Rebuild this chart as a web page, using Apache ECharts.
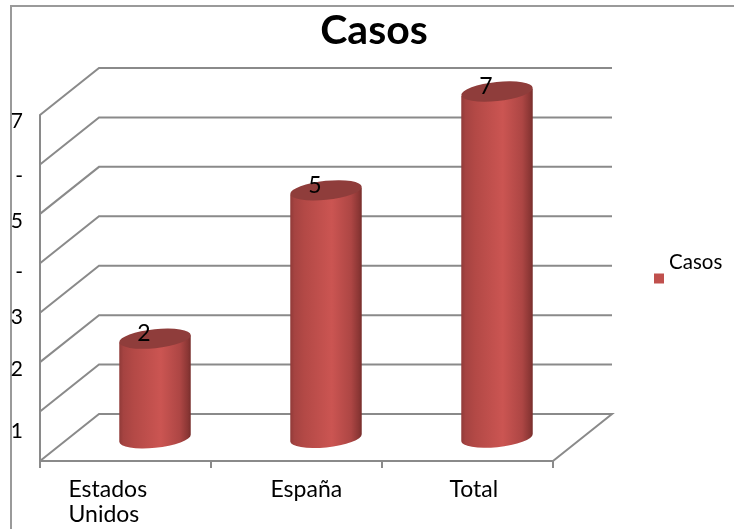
<!DOCTYPE html>
<html><head><meta charset="utf-8">
<style>html,body{margin:0;padding:0;background:#fff}#c{width:734px;height:529px}</style>
<script src="https://cdn.jsdelivr.net/npm/echarts@6/dist/echarts.min.js"></script>
</head><body><div id="c"></div>
<script>
var categories = ['Estados\nUnidos', 'España', 'Total'];
var casos = [2, 5, 7];
var tickValues = [0, 1, 2, 3, 4, 5, 6, 7];
var tickLabels = {1:'1', 2:'2', 3:'3', 4:'-', 5:'5', 6:'-', 7:'7'};
var labelShift = {1:20, 2:7, 3:5, 4:9, 5:7, 6:12, 7:6};
var catLabelDx = [-57, -26, -18];

var DX = 59, DY = 47;
var GRID = '#8a8a8a';
var font = 'Lato, "Open Sans", sans-serif';
var rich = {};
tickValues.forEach(function(v){ rich['p'+v] = {fontSize:21, fontFamily:font, color:'#000', padding:[(labelShift[v]||0)*2,0,0,0]}; });

var option = {
  animation:false,
  backgroundColor:'#fff',
  title:{text:'Casos', left:369, top:5, textAlign:'center',
    textStyle:{fontFamily:font, fontWeight:'bold', fontSize:41, color:'#000'}},
  legend:{data:[{name:'Casos', icon:'rect', itemStyle:{color:'#c0504d'}}], left:654, top:252, orient:'vertical',
    itemWidth:10, itemHeight:10, itemGap:0, selectedMode:false, padding:0,
    formatter:function(n){ return '{t|'+n+'}'; },
    textStyle:{rich:{t:{fontFamily:font, fontSize:20.5, color:'#000', padding:[0,0,32,0]}}}},
  grid:{left:40, right:181, top:115, bottom:68},
  xAxis:{type:'category', data:categories, boundaryGap:true,
    axisLine:{show:true, lineStyle:{color:GRID, width:2}},
    axisTick:{show:true, length:7, alignWithLabel:false, lineStyle:{color:GRID, width:2}},
    axisLabel:{show:false}, splitLine:{show:false}},
  yAxis:{type:'value', min:0, max:7, interval:1,
    axisLine:{show:true, lineStyle:{color:GRID, width:2}},
    axisTick:{show:false}, splitLine:{show:false},
    axisLabel:{margin:17, align:'right', formatter:function(v){ return v===0?'':'{p'+v+'|'+tickLabels[v]+'}'; }, rich:rich}},
  series:[
    {type:'custom', name:'Walls', silent:true, z:1, data:tickValues, encode:{y:0},
     renderItem:function(p, api){
       var v = api.value(0), w = api.size([1,0])[0];
       var a = api.coord([0, v]); var x0 = a[0]-w/2, y = a[1];
       var x1 = api.coord([categories.length-1, v])[0]+w/2;
       var pts = [[x0,y],[x0+DX,y-DY],[x1+DX,y-DY]];
       if (v===0) pts.push([x1,y]);
       return {type:'polyline', shape:{points:pts}, style:{fill:null, stroke:GRID, lineWidth:2}};
     }},
    {type:'custom', name:'Casos', silent:true, z:3, data:casos.map(function(v,i){return [i,v];}), encode:{x:0,y:1},
     itemStyle:{color:'#c0504d'},
     renderItem:function(p, api){
       var i = api.value(0), v = api.value(1);
       var w = api.size([1,0])[0]*0.42, rx = w/2, ry = 9.5, tilt = 3.6;
       var t = api.coord([i,v]), b = api.coord([i,0]);
       var cx = t[0]+DX/2, yt = t[1]-DY/2, yb = b[1]-DY/2+1;
       var L = cx-rx, R = cx+rx;
       var body = 'M'+L+' '+(yt+tilt)+' L'+L+' '+(yb+tilt)+' A'+rx+' '+ry+' -6 0 0 '+R+' '+(yb-tilt)+' L'+R+' '+(yt-tilt)+' Z';
       var top = 'M'+L+' '+(yt+tilt)+' A'+rx+' '+ry+' -6 1 1 '+R+' '+(yt-tilt)+' A'+rx+' '+ry+' -6 1 1 '+L+' '+(yt+tilt)+' Z';
       var grad = {type:'linear',x:0,y:0,x2:1,y2:0,colorStops:[
         {offset:0,color:'#8f3a38'},{offset:.06,color:'#a54341'},{offset:.2,color:'#b34946'},
         {offset:.58,color:'#cb5552'},{offset:.85,color:'#ad4644'},{offset:.96,color:'#8a3634'},{offset:1,color:'#762d2b'}]};
       return {type:'group', children:[
         {type:'path', shape:{pathData:body, x:L, y:yt-tilt, width:w, height:yb-yt+ry+tilt}, style:{fill:grad}},
         {type:'path', shape:{pathData:top, x:L, y:yt-ry, width:w, height:2*ry}, style:{fill:'#8f3d3b'}},
         {type:'text', style:{text:String(v), x:cx-11, y:yt-5, align:'center', verticalAlign:'middle',
           font:'23px '+font, fill:'#000'}}
       ]};
     }},
    {type:'custom', name:'CategoryLabels', silent:true, z:4, data:categories.map(function(c,i){return i;}), encode:{x:0},
     renderItem:function(p, api){
       var i = api.value(0), c = api.coord([i,0]);
       return {type:'text', style:{text:categories[i], x:c[0]+catLabelDx[i], y:c[1]+16, align:'left', verticalAlign:'top',
         font:'23px '+font, fill:'#000', lineHeight:25}};
     }}
  ],
  graphic:[
    {type:'polyline', silent:true, shape:{points:[[11,529],[11,6],[734,6]]}, style:{fill:null, stroke:'#9a9a9a', lineWidth:2}}
  ]
};
echarts.init(document.getElementById('c'), null, {renderer:'canvas'}).setOption(option);
</script></body></html>
